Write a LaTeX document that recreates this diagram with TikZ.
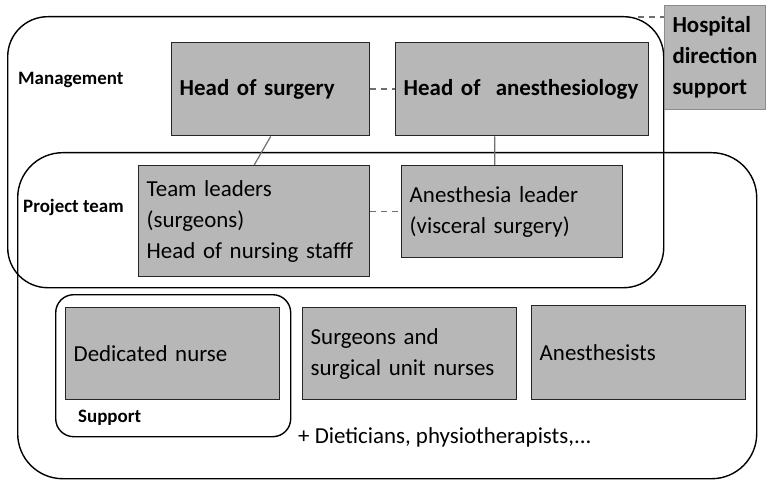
\documentclass[tikz,border=0pt]{standalone}
\usepackage{fontspec}
\setmainfont{Carlito}
\usetikzlibrary{calc}
\definecolor{boxgray}{RGB}{183,183,183}
\definecolor{linkgray}{RGB}{110,110,110}
\tikzset{
  group/.style={draw=black, line width=1.4bp, rounded corners=#1, anchor=north west, inner sep=0pt},
  role/.style={draw=black!85, fill=boxgray, line width=1.4bp, anchor=north west,
    inner xsep=8bp, inner ysep=0pt, align=left, font=\fontsize{23}{31}\selectfont},
  tag/.style={anchor=west, inner sep=0pt, font=\bfseries\fontsize{19}{23}\selectfont},
  link/.style={draw=linkgray, line width=1.2bp},
  peer/.style={draw=linkgray, line width=1.5bp, dash pattern=on 6bp off 5bp},
}
\begin{document}
\begin{tikzpicture}[x=1bp,y=-1bp]
\useasboundingbox (0,0) rectangle (766,480);

% containers
\node[group=40bp, minimum width=656bp, minimum height=271bp] (mgmt) at (7,16) {};
\node[group=45bp, minimum width=739bp, minimum height=326bp] (proj) at (17,152) {};
\node[group=18bp, minimum width=235bp, minimum height=142bp] (supp) at (55,294) {};

% container labels
\node[tag] (lmgmt) at (18,80) {Management};
\node[tag] (lproj) at (23,207) {Project team};
\node[tag] (lsupp) at (78,418) {Support};

% management
\node[role, font=\bfseries\fontsize{23}{31}\selectfont,
  minimum width=198bp, minimum height=93bp, text width=182bp] (hs) at (171,42) {Head of surgery};
\node[role, font=\bfseries\fontsize{23}{31}\selectfont,
  minimum width=253bp, minimum height=93bp, text width=237bp] (ha) at (395,42) {Head of\ \ anesthesiology};
\node[role, draw=black!45, line width=1bp, font=\bfseries\fontsize{23}{31}\selectfont,
  minimum width=101bp, minimum height=104bp, text width=85bp] (hosp) at (664,5)
  {Hospital\\direction\\support};

% project team
\node[role, minimum width=231bp, minimum height=111bp, text width=215bp] (tl) at (138,165)
  {Team leaders\\(surgeons)\\Head of nursing stafff};
\node[role, minimum width=221bp, minimum height=92bp, text width=205bp] (al) at (401,165)
  {Anesthesia leader\\(visceral surgery)};

% wider staff
\node[role, minimum width=214bp, minimum height=92bp, text width=198bp] (dn) at (65,307) {Dedicated nurse};
\node[role, minimum width=214bp, minimum height=92bp, text width=198bp] (sn) at (302,307)
  {Surgeons and\\surgical unit nurses};
\node[role, minimum width=214bp, minimum height=94bp, text width=198bp] (an) at (531,305) {Anesthesists};

\node[anchor=west, inner sep=0pt, font=\fontsize{23}{31}\selectfont] (more) at (298,437)
  {+ Dieticians, physiotherapists,...};

% links
\draw[link] (hs.south) -- (tl.north);
\draw[link] ([xshift=-27.5bp]ha.south) -- ([xshift=-17.5bp]al.north);
\draw[peer] (hs.east) -- (ha.west);
\draw[peer] (al.west -| tl.east) -- (al.west);
\draw[peer] ([xshift=-26bp,yshift=-1bp]mgmt.north east) -- ([yshift=-1bp]mgmt.north east -| hosp.west);
\end{tikzpicture}
\end{document}
